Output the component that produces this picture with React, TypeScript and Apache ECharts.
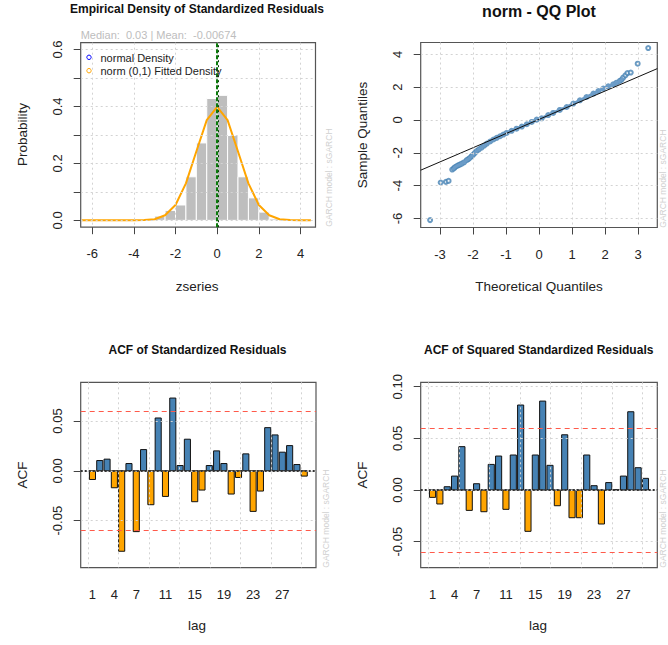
import React, { useEffect, useRef } from "react";
import * as echarts from "echarts";

// ---------------- data ----------------
// Empirical density histogram (bin starts, density)
const histBinStarts = [-3, -2.5, -2, -1.5, -1, -0.5, 0, 0.5, 1, 1.5, 2, 2.5];
const histDensity = [0.015, 0.035, 0.054, 0.153, 0.272, 0.428, 0.439, 0.298, 0.153, 0.079, 0.029, 0.005];
const histBinWidth = 0.5;

// Fitted norm(0,1) density
const densityX = [-6.5, -6, -5.5, -5, -4.5, -4, -3.5, -3, -2.5, -2, -1.5, -1, -0.5, 0, 0.5, 1, 1.5, 2, 2.5, 3, 3.5, 4, 4.5];
const densityY = [0, 0, 0, 0, 0, 0, 0.001, 0.004, 0.018, 0.054, 0.13, 0.242, 0.352, 0.399, 0.352, 0.242, 0.13, 0.054, 0.018, 0.004, 0.001, 0, 0];

const medianValue = 0.03;
const meanValue = -0.00674;

// QQ plot points (theoretical, sample)
const qqTheoretical = [-3.3, -2.98, -2.82, -2.74, -2.63, -2.58, -2.55, -2.5, -2.45, -2.4, -2.34, -2.27, -2.19, -2.14, -2.09, -2.04, -1.99, -1.94, -1.89, -1.82, -1.74, -1.66, -1.58, -1.48, -1.38, -1.28, -1.18, -1.08, -0.98, -0.83, -0.68, -0.52, -0.37, -0.22, -0.07, 0.08, 0.28, 0.43, 0.63, 0.84, 1.04, 1.24, 1.44, 1.65, 1.8, 1.95, 2.1, 2.25, 2.35, 2.45, 2.5, 2.55, 2.62, 2.68, 2.78, 2.99, 3.31];
const qqSample = [-6.1, -3.81, -3.77, -3.71, -3.02, -2.95, -2.88, -2.82, -2.76, -2.72, -2.66, -2.58, -2.45, -2.38, -2.3, -2.2, -2.11, -2.0, -1.89, -1.79, -1.68, -1.56, -1.44, -1.31, -1.19, -1.09, -0.99, -0.89, -0.79, -0.66, -0.53, -0.4, -0.26, -0.12, 0.02, 0.1, 0.3, 0.43, 0.61, 0.79, 1.0, 1.2, 1.4, 1.61, 1.76, 1.91, 2.05, 2.17, 2.27, 2.38, 2.45, 2.58, 2.72, 2.86, 2.89, 3.43, 4.38];
const qqLineIntercept = 0.035;
const qqLineSlope = 0.863;

// ACF
const lags = [1, 2, 3, 4, 5, 6, 7, 8, 9, 10, 11, 12, 13, 14, 15, 16, 17, 18, 19, 20, 21, 22, 23, 24, 25, 26, 27, 28, 29, 30];
const acfResid = [-0.0087, 0.0103, 0.0117, -0.017, -0.0807, 0.0073, -0.061, 0.0213, -0.034, 0.053, -0.0257, 0.073, 0.0053, 0.0317, -0.031, -0.0193, 0.0053, 0.02, 0.0073, -0.0233, -0.0067, 0.017, -0.0407, -0.0203, 0.0433, 0.036, 0.0187, 0.0253, 0.0063, -0.0053];
const acfSquared = [-0.0071, -0.0135, 0.0032, 0.0135, 0.042, -0.0197, 0.0061, -0.021, 0.0248, 0.0329, -0.0187, 0.0339, 0.0823, -0.04, 0.0339, 0.0861, 0.0239, -0.0152, 0.0535, -0.0268, -0.0268, 0.0339, 0.0042, -0.0329, 0.0072, 0.0003, 0.0135, 0.0758, 0.0216, 0.0113];
const confBound = 0.062;
const lagLabels = [1, 4, 7, 11, 15, 19, 23, 27];

// tick labels
const histXTicks = [-6, -4, -2, 0, 2, 4];
const histYTicks = [0, 0.1, 0.2, 0.3, 0.4, 0.5, 0.6];
const histYLabels = [0, 0.2, 0.4, 0.6];
const qqXTicks = [-3, -2, -1, 0, 1, 2, 3];
const qqYTicks = [-6, -4, -2, 0, 2, 4];
const acf1YTicks = [-0.05, 0, 0.05];
const acf2YTicks = [-0.05, 0, 0.05, 0.1];

// ---------------- styling ----------------
const FONT = "'Liberation Sans', Arial, Helvetica, sans-serif";
const BLUE = "#4682B4";
const ORANGE = "#FFA500";
const RED = "#FF5A4A";
const GRID_LINE = { color: "#d3d3d3", type: [2, 3], width: 1 };
const BAR_PITCH = 1.2; // R barplot spacing (width 1 + space 0.2)
const ACF_HALF = 0.5 / BAR_PITCH;
const acfGridPositions = [0, 5, 10, 15, 20, 25, 30, 35].map((b) => (b + 0.5) / BAR_PITCH);

const grids = [
  { left: 80.7, top: 42.7, width: 234.8, height: 184.5 },
  { left: 420.7, top: 42.5, width: 236.6, height: 185 },
  { left: 80.7, top: 382.3, width: 235.3, height: 185.4 },
  { left: 420.7, top: 382.3, width: 236.6, height: 185.4 },
];

function xAxisOf(gridIndex: number, min: number, max: number, ticks: number[], labels: number[], fmt: (v: number) => string, showTicks = true) {
  return {
    type: "value", gridIndex, min, max, position: "bottom", z: 5,
    axisLine: { show: false, onZero: false },
    axisTick: { show: showTicks, inside: false, length: 7, customValues: ticks, lineStyle: { color: "#444", width: 1 } },
    axisLabel: { customValues: labels, formatter: fmt, margin: 20, fontSize: 13, color: "#222", fontFamily: FONT },
    splitLine: { show: true, lineStyle: GRID_LINE },
  };
}
function yAxisOf(gridIndex: number, min: number, max: number, ticks: number[], labels: number[], fmt: (v: number) => string) {
  return {
    type: "value", gridIndex, min, max, position: "left", z: 5,
    axisLine: { show: false, onZero: false },
    axisTick: { show: true, inside: false, length: 7, customValues: ticks, lineStyle: { color: "#444", width: 1 } },
    axisLabel: { customValues: labels, formatter: fmt, rotate: 90, margin: 17, fontSize: 13, color: "#222", fontFamily: FONT },
    splitLine: { show: true, lineStyle: GRID_LINE },
  };
}

function txt(text: string, x: number, y: number, size: number, opts: any = {}) {
  return {
    type: "text", x, y, rotation: opts.rotate ? Math.PI / 2 : 0, z: 100,
    style: {
      text, fill: opts.color || "#222", fontSize: size, fontFamily: FONT, fontWeight: opts.bold ? "bold" : "normal",
      align: opts.align || "center", textAlign: opts.align || "center",
      verticalAlign: "middle", textVerticalAlign: "middle",
    },
  };
}

function acfRender(params: any, api: any) {
  const lag = api.value(0) as number;
  const v = api.value(1) as number;
  const a = api.coord([lag - ACF_HALF, v]);
  const b = api.coord([lag + ACF_HALF, 0]);
  return {
    type: "rect",
    shape: { x: a[0], y: Math.min(a[1], b[1]), width: b[0] - a[0], height: Math.abs(b[1] - a[1]) },
    style: { fill: v >= 0 ? BLUE : ORANGE, stroke: "#111", lineWidth: 1 },
  };
}

function acfMarkLine() {
  return {
    silent: true, symbol: "none", label: { show: false }, z: 6,
    data: [
      { yAxis: 0, lineStyle: { color: "#333", type: [2, 2], width: 2 } },
      { yAxis: confBound, lineStyle: { color: RED, type: [5, 4], width: 1 } },
      { yAxis: -confBound, lineStyle: { color: RED, type: [5, 4], width: 1 } },
    ],
  };
}

function buildOption() {
  const qqXMin = -3.585, qqXMax = 3.585;
  const qqPoints = qqTheoretical.map((x, i) => [x, qqSample[i]]);
  const qqBand = qqPoints.filter((p) => p[0] >= -2.65 && p[0] <= 2.56);
  const fmt1 = (v: number) => v.toFixed(1);
  const fmt0 = (v: number) => String(Math.round(v));
  const fmt2 = (v: number) => v.toFixed(2);

  return {
    animation: false,
    backgroundColor: "#fff",
    textStyle: { fontFamily: FONT },
    grid: grids.map((g) => ({ ...g, show: true, borderColor: "#555", borderWidth: 1.2, backgroundColor: "transparent", containLabel: false, outerBoundsMode: "none" })),
    xAxis: [
      xAxisOf(0, -6.55, 4.72, histXTicks, histXTicks, fmt0),
      xAxisOf(1, qqXMin, qqXMax, qqXTicks, qqXTicks, fmt0),
      xAxisOf(2, -0.61, 31.61, acfGridPositions, lagLabels, fmt0, false),
      xAxisOf(3, -0.61, 31.61, acfGridPositions, lagLabels, fmt0, false),
    ],
    yAxis: [
      yAxisOf(0, -0.024, 0.624, histYTicks, histYLabels, fmt1),
      yAxisOf(1, -6.55, 4.72, qqYTicks, qqYTicks, fmt0),
      yAxisOf(2, -0.0972, 0.0888, acf1YTicks, acf1YTicks, fmt2),
      yAxisOf(3, -0.0752, 0.1043, acf2YTicks, acf2YTicks, fmt2),
    ],
    series: [
      {
        type: "custom", xAxisIndex: 0, yAxisIndex: 0, z: 2,
        data: histBinStarts.map((s, i) => [s, histDensity[i]]),
        encode: { x: 0, y: 1 },
        renderItem: (params: any, api: any) => {
          const s = api.value(0) as number;
          const d = api.value(1) as number;
          const a = api.coord([s, d]);
          const b = api.coord([s + histBinWidth, 0]);
          return {
            type: "rect",
            shape: { x: a[0], y: a[1], width: b[0] - a[0], height: b[1] - a[1] },
            style: { fill: "#bebebe", stroke: "#fff", lineWidth: 1 },
          };
        },
      },
      {
        type: "line", xAxisIndex: 0, yAxisIndex: 0, z: 3,
        data: densityX.map((x, i) => [x, densityY[i]]),
        showSymbol: false, symbol: "none",
        lineStyle: { color: ORANGE, width: 2 },
        markLine: {
          silent: true, symbol: "none", label: { show: false }, z: 7,
          data: [
            { xAxis: meanValue, lineStyle: { color: "#0c7a0c", type: [4, 2], width: 2 } },
            { xAxis: medianValue, lineStyle: { color: "#0a3d0a", type: [2, 3], width: 1 } },
          ],
        },
      },
      {
        type: "scatter", xAxisIndex: 1, yAxisIndex: 1, z: 2,
        data: qqPoints, symbol: "emptyCircle", symbolSize: 4,
        itemStyle: { color: BLUE, borderColor: BLUE, borderWidth: 0.8 },
      },
      {
        type: "line", xAxisIndex: 1, yAxisIndex: 1, z: 3,
        data: qqBand, showSymbol: false, symbol: "none",
        lineStyle: { color: "#6b9cc8", width: 3 },
      },
      {
        type: "line", xAxisIndex: 1, yAxisIndex: 1, z: 4,
        data: [qqXMin, qqXMax].map((x) => [x, qqLineIntercept + qqLineSlope * x]),
        showSymbol: false, symbol: "none",
        lineStyle: { color: "#111", width: 1 },
      },
      {
        type: "custom", xAxisIndex: 2, yAxisIndex: 2, z: 2,
        data: lags.map((l, i) => [l, acfResid[i]]),
        encode: { x: 0, y: 1 },
        renderItem: acfRender,
        markLine: acfMarkLine(),
      },
      {
        type: "custom", xAxisIndex: 3, yAxisIndex: 3, z: 2,
        data: lags.map((l, i) => [l, acfSquared[i]]),
        encode: { x: 0, y: 1 },
        renderItem: acfRender,
        markLine: acfMarkLine(),
      },
    ],
    graphic: [
      txt("Empirical Density of Standardized Residuals", 197, 8.8, 12, { bold: true, color: "#111" }),
      txt("Median:  0.03 | Mean:  -0.00674", 80.7, 34.5, 11, { align: "left", color: "#bdbdbd" }),
      { type: "circle", shape: { cx: 89, cy: 57.3, r: 2.2 }, style: { fill: "none", stroke: "#0000ff", lineWidth: 1 }, z: 100 },
      { type: "circle", shape: { cx: 89, cy: 70.7, r: 2.2 }, style: { fill: "none", stroke: ORANGE, lineWidth: 1 }, z: 100 },
      txt("normal Density", 100.5, 57.5, 11, { align: "left" }),
      txt("norm (0,1) Fitted Density", 100.5, 71, 11, { align: "left" }),
      txt("Probability", 22.5, 134.5, 13.5, { rotate: true }),
      txt("zseries", 197, 286, 13.5),
      txt("GARCH model : sGARCH", 329, 226.7, 8.5, { rotate: true, align: "left", color: "#d0d0d0" }),

      txt("norm - QQ Plot", 539, 11, 16, { bold: true, color: "#111" }),
      txt("Sample Quantiles", 362.6, 135, 13.5, { rotate: true }),
      txt("Theoretical Quantiles", 539, 286, 13.5),
      txt("GARCH model : sGARCH", 663, 227.7, 8.5, { rotate: true, align: "left", color: "#d0d0d0" }),

      txt("ACF of Standardized Residuals", 197.5, 349.5, 12, { bold: true, color: "#111" }),
      txt("ACF", 22.3, 475, 13.5, { rotate: true }),
      txt("lag", 197, 625.5, 13.5),
      txt("GARCH model : sGARCH", 326, 567.7, 8.5, { rotate: true, align: "left", color: "#d0d0d0" }),

      txt("ACF of Squared Standardized Residuals", 538.7, 349.5, 12, { bold: true, color: "#111" }),
      txt("ACF", 362.6, 475, 13.5, { rotate: true }),
      txt("lag", 538, 625.5, 13.5),
      txt("GARCH model : sGARCH", 663, 567.7, 8.5, { rotate: true, align: "left", color: "#d0d0d0" }),
    ],
  };
}

export default function App() {
  const ref = useRef<HTMLDivElement>(null);
  useEffect(() => {
    if (!ref.current) return;
    const chart = echarts.init(ref.current, null, { renderer: "svg", width: 668, height: 645 });
    chart.setOption(buildOption() as any);
    return () => chart.dispose();
  }, []);
  return (
    <div
      ref={ref}
      style={{ position: "absolute", left: 0, top: 0, width: 668, height: 645, background: "#fff" }}
    />
  );
}
